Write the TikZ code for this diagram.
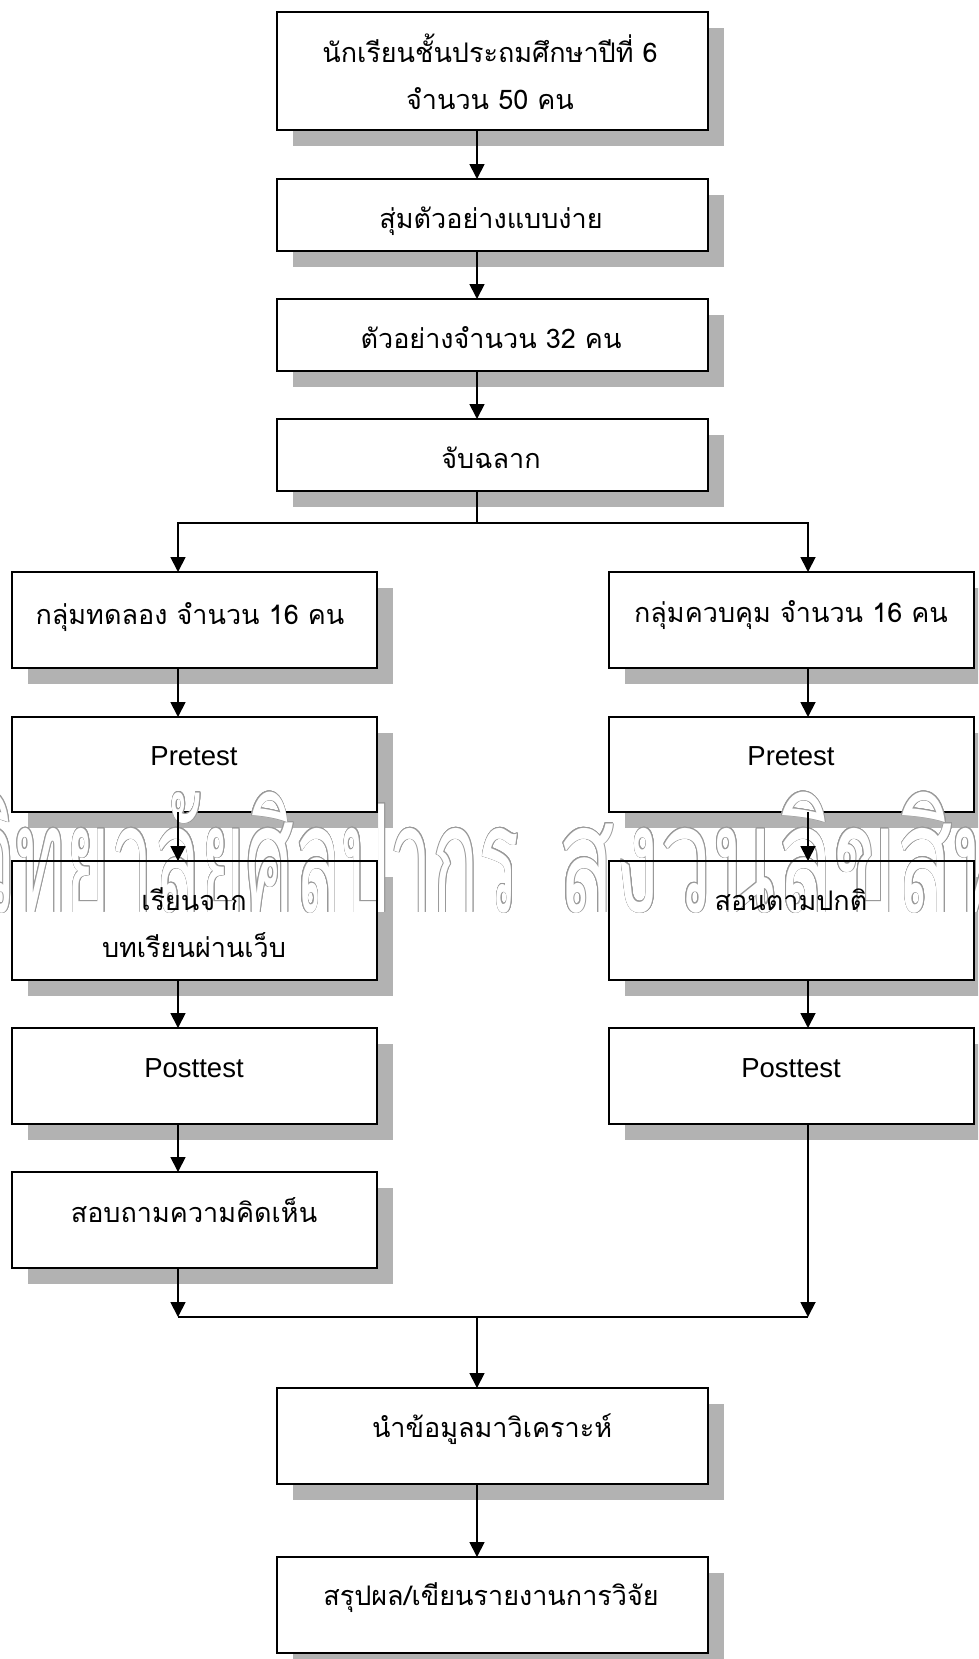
\documentclass[tikz,border=0pt]{standalone}
\usepackage{fontspec}
\setmainfont{Liberation Sans}
\newfontfamily\thaifont[Script=Thai]{Loma}
\newfontfamily\wmfont[Script=Thai,FakeStretch=0.5]{Loma}
\usepackage[copies]{contour}
\contourlength{0.6pt}
\usetikzlibrary{arrows.meta,shadows}

\tikzset{
  edge/.style={draw=black, line width=1.8pt},
  flowbox/.style={edge, fill=white, inner sep=0pt, outer sep=0pt, anchor=north west,
    drop shadow={shadow xshift=16pt, shadow yshift=-16pt, fill=black!30, opacity=1}},
  midbox/.style={flowbox, minimum width=431pt},
  sidebox/.style={flowbox, minimum width=365pt},
  lbl/.style={anchor=base, inner sep=0pt, align=center,
    font=\thaifont\fontsize{27}{47}\selectfont},
  lbllat/.style={lbl, font=\fontsize{27.5}{30}\selectfont},
  link/.style={line width=1.8pt, draw=black},
  arr/.style={link, -{Triangle[length=15pt,width=15pt]}},
  wmark/.style={inner sep=0pt, anchor=base, transform shape,
    font=\wmfont\fontsize{150}{150}\selectfont}
}

\begin{document}
\begin{tikzpicture}[x=1pt,y=-1pt]
\useasboundingbox (0,0) rectangle (978,1659);
\clip (0,0) rectangle (978,1659);

% connector columns
\coordinate (cx) at (477,0);
\coordinate (lx) at (178,0);
\coordinate (rx) at (808,0);
\coordinate (split) at (477,523);
\coordinate (merge) at (477,1317);

% centre column
\node[midbox, minimum height=118pt] (b1) at (277,12) {};
\node[midbox, minimum height=72pt]  (b2) at (277,179) {};
\node[midbox, minimum height=72pt]  (b3) at (277,299) {};
\node[midbox, minimum height=72pt]  (b4) at (277,419) {};
\node[midbox, minimum height=96pt]  (b5) at (277,1388) {};
\node[midbox, minimum height=96pt]  (b6) at (277,1557) {};

% experimental group
\node[sidebox, minimum height=96pt]  (l1) at (12,572) {};
\node[sidebox, minimum height=95pt]  (l2) at (12,717) {};
\node[sidebox, minimum height=119pt] (l3) at (12,861) {};
\node[sidebox, minimum height=96pt]  (l4) at (12,1028) {};
\node[sidebox, minimum height=96pt]  (l5) at (12,1172) {};

% control group
\node[sidebox, minimum height=96pt]  (r1) at (609,572) {};
\node[sidebox, minimum height=95pt]  (r2) at (609,717) {};
\node[sidebox, minimum height=119pt] (r3) at (609,861) {};
\node[sidebox, minimum height=96pt]  (r4) at (609,1028) {};

% outlined watermark
\node[wmark, anchor=base east, xscale=1.02] (wm1) at (520,912)
  {\contour{black!40}{\textcolor{white}{มหาวิทยาลัยศิลปากร}}};
\node[wmark, anchor=base west, xscale=1.24] (wm2) at (558,912)
  {\contour{black!40}{\textcolor{white}{สงวนลิขสิทธิ์}}};

% box edges kept above the watermark
\draw[edge] (l3.north west) rectangle (l3.south east);
\draw[edge] (r3.north west) rectangle (r3.south east);

% labels (multi-line labels are placed by their last baseline)
\node[lbl] (t1) at (490,110) {นักเรียนชั้นประถมศึกษาปีที่ 6\\จำนวน 50 คน};
\node[lbl] (t2) at (491,228) {สุ่มตัวอย่างแบบง่าย};
\node[lbl] (t3) at (491,348) {ตัวอย่างจำนวน 32 คน};
\node[lbl] (t4) at (491,468) {จับฉลาก};
\node[lbl] (tl1) at (190,624) {กลุ่มทดลอง จำนวน 16 คน};
\node[lbl] (tr1) at (791,622) {กลุ่มควบคุม จำนวน 16 คน};
\node[lbllat] (tl2) at (194,765) {Pretest};
\node[lbllat] (tr2) at (791,765) {Pretest};
\node[lbl] (tl3) at (194,957) {เรียนจาก\\บทเรียนผ่านเว็บ};
\node[lbl] (tr3) at (791,910) {สอนตามปกติ};
\node[lbllat] (tl4) at (194,1077) {Posttest};
\node[lbllat] (tr4) at (791,1077) {Posttest};
\node[lbl] (tl5) at (194,1222) {สอบถามความคิดเห็น};
\node[lbl] (t5) at (492,1437) {นำข้อมูลมาวิเคราะห์};
\node[lbl] (t6) at (491,1605) {สรุปผล/เขียนรายงานการวิจัย};

% connectors, centre column
\draw[arr] (b1.south -| cx) -- (b2.north -| cx);
\draw[arr] (b2.south -| cx) -- (b3.north -| cx);
\draw[arr] (b3.south -| cx) -- (b4.north -| cx);
\draw[link] (b4.south -| cx) -- (split);
\draw[arr] (split) -| (l1.north -| lx);
\draw[arr] (split) -| (r1.north -| rx);

% connectors, experimental group
\draw[arr] (l1.south -| lx) -- (l2.north -| lx);
\draw[arr] (l2.south -| lx) -- (l3.north -| lx);
\draw[arr] (l3.south -| lx) -- (l4.north -| lx);
\draw[arr] (l4.south -| lx) -- (l5.north -| lx);
\draw[arr] (l5.south -| lx) -- (merge -| lx);

% connectors, control group
\draw[arr] (r1.south -| rx) -- (r2.north -| rx);
\draw[arr] (r2.south -| rx) -- (r3.north -| rx);
\draw[arr] (r3.south -| rx) -- (r4.north -| rx);
\draw[arr] (r4.south -| rx) -- (merge -| rx);

% merge and final steps
\draw[link] (merge -| lx) -- (merge -| rx);
\draw[arr] (merge) -- (b5.north -| cx);
\draw[arr] (b5.south -| cx) -- (b6.north -| cx);
\end{tikzpicture}
\end{document}
